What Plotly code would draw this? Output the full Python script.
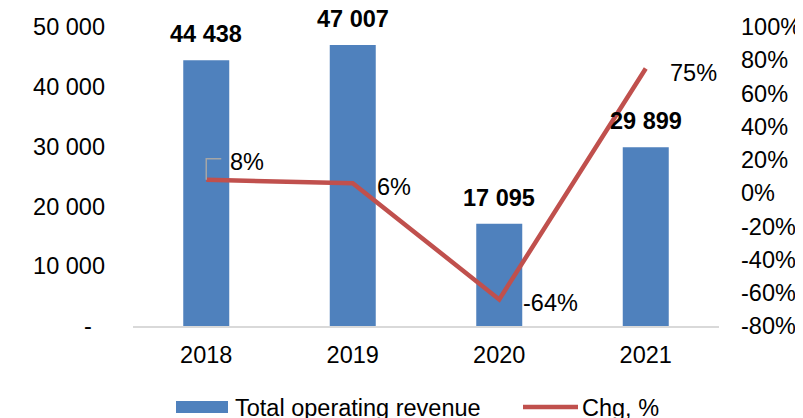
import plotly.graph_objects as go

years = ["2018", "2019", "2020", "2021"]
revenue = [44438, 47007, 17095, 29899]
chg_pct = [8, 6, -64, 75]
left_ticks = [0, 10000, 20000, 30000, 40000, 50000]
left_ticktext = ["-\u00a0\u00a0", "10 000", "20 000", "30 000", "40 000", "50 000"]
right_ticks = [-80, -60, -40, -20, 0, 20, 40, 60, 80, 100]
right_ticktext = [f"{v}%" for v in right_ticks]

BLUE = "#4F81BD"
RED = "#C0504D"
FONT = "Liberation Sans, Arial, sans-serif"
FS = 23.5

# page body has an 8px margin; figure is sized to fit the 803x418 window
OFF = 8
W, H = 803 - OFF, 418 - OFF
L, T = 133 - OFF, 27 - OFF
R = W - (719 - OFF)
B = H - (326 - OFF)
PW, PH = W - L - R, H - T - B

def px(x):
    return (x - OFF - L) / PW

def py(y):
    return (H - B - (y - OFF)) / PH

xpos = list(range(len(years)))

fig = go.Figure()
fig.add_trace(go.Bar(x=xpos, y=revenue, marker=dict(color=BLUE, line=dict(width=0)),
                     width=0.314, name="Total operating revenue", showlegend=False))
fig.add_trace(go.Scatter(x=xpos, y=chg_pct, yaxis="y2", mode="lines",
                         line=dict(color=RED, width=4.5), name="Chg, %", showlegend=False))

annotations = []
for xi, v in zip(xpos, revenue):
    annotations.append(dict(x=xi, y=v, xref="x", yref="y", text=f"<b>{v:,}</b>".replace(",", " "),
                            showarrow=False, yshift=26, yanchor="middle",
                            font=dict(family=FONT, size=FS, color="black")))
for xi, v in zip(xpos, chg_pct):
    ys = 18 if xi == 0 else -4
    annotations.append(dict(x=xi, y=v, xref="x", yref="y2", text=f"{v}%", showarrow=False,
                            xanchor="left", xshift=22, yshift=ys, yanchor="middle",
                            font=dict(family=FONT, size=FS, color="black")))

# legend text
annotations.append(dict(x=px(233), y=py(408), xref="paper", yref="paper", text="Total operating revenue",
                        showarrow=False, xanchor="left", yanchor="middle",
                        font=dict(family=FONT, size=FS, color="black")))
annotations.append(dict(x=px(580), y=py(408), xref="paper", yref="paper", text="Chg, %",
                        showarrow=False, xanchor="left", yanchor="middle",
                        font=dict(family=FONT, size=FS, color="black")))

shapes = [
    # leader line for first percentage label
    dict(type="path", xref="x", yref="y2", xsizemode="pixel", ysizemode="pixel",
         xanchor=xpos[0], yanchor=chg_pct[0], path="M0,0 V21 H15",
         line=dict(color="#A6A6A6", width=1.5)),
    # legend symbols
    dict(type="rect", xref="paper", yref="paper", x0=px(176), x1=px(228), y0=py(413), y1=py(401),
         fillcolor=BLUE, line=dict(width=0)),
    dict(type="line", xref="paper", yref="paper", x0=px(523), x1=px(578), y0=py(407), y1=py(407),
         line=dict(color=RED, width=4.5)),
]

fig.update_layout(
    width=W, height=H, margin=dict(l=L, r=R, t=T, b=B, autoexpand=False),
    paper_bgcolor="white", plot_bgcolor="white",
    font=dict(family=FONT, size=FS, color="black"),
    xaxis=dict(range=[-0.5, 3.5], tickvals=xpos, ticktext=years, showline=True,
               linecolor="#D9D9D9", linewidth=1.5, automargin=False,
               showgrid=False, zeroline=False, ticks="", ticklabelstandoff=7,
               tickfont=dict(family=FONT, size=FS, color="black")),
    yaxis=dict(range=[0, 50000], tickvals=left_ticks, ticktext=left_ticktext, automargin=False,
               showgrid=False, zeroline=False, showline=False, ticks="",
               ticklabelstandoff=27, tickfont=dict(family=FONT, size=FS, color="black")),
    yaxis2=dict(range=[-80, 100], tickvals=right_ticks, ticktext=right_ticktext, automargin=False,
                overlaying="y", side="right", showgrid=False, zeroline=False, showline=False,
                ticks="", ticklabelstandoff=21, tickfont=dict(family=FONT, size=FS, color="black")),
    annotations=annotations, shapes=shapes, showlegend=False,
)

fig.write_html("out.html")
